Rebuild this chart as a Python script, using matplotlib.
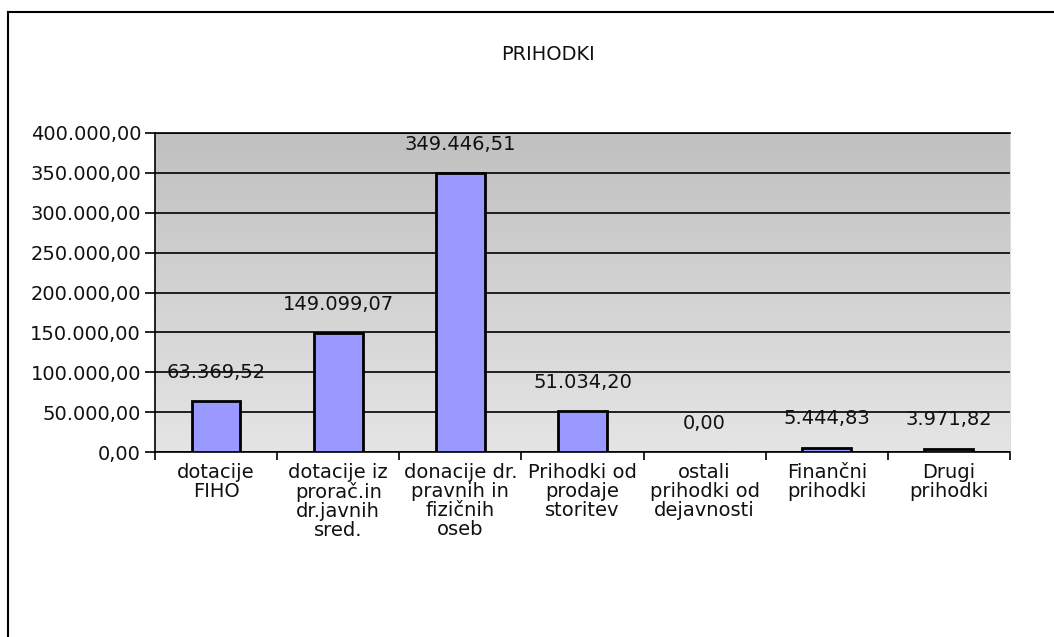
import numpy as np
import matplotlib
matplotlib.use("Agg")
import matplotlib.pyplot as plt
from matplotlib.colors import LinearSegmentedColormap

categories = ["dotacije\nFIHO", "dotacije iz\nprorač.in\ndr.javnih\nsred.",
              "donacije dr.\npravnih in\nfizičnih\noseb", "Prihodki od\nprodaje\nstoritev",
              "ostali\nprihodki od\ndejavnosti", "Finančni\nprihodki", "Drugi\nprihodki"]
values = [63369.52, 149099.07, 349446.51, 51034.20, 0.00, 5444.83, 3971.82]
yticks = [0, 50000, 100000, 150000, 200000, 250000, 300000, 350000, 400000]


def fmt(v):
    # slovenian number format: 1.234,56
    s = f"{v:,.2f}"
    return s.replace(",", "X").replace(".", ",").replace("X", ".")


plt.rcParams['font.family'] = ['DejaVu Sans']
W, H = 1054, 637
fs = 14
fig = plt.figure(figsize=(W / 100, H / 100), dpi=100)
fig.patch.set_facecolor("white")

# outer border (only left and top are visible in the reference)
fig.add_artist(plt.Line2D([8 / W, 8 / W], [0, 1 - 12 / H], color="black", lw=1.5, transform=fig.transFigure))
fig.add_artist(plt.Line2D([8 / W, 1], [1 - 12 / H, 1 - 12 / H], color="black", lw=1.5, transform=fig.transFigure))

ax = fig.add_axes([155 / W, 1 - 452 / H, (1010 - 155) / W, (452 - 133) / H])
x = np.arange(len(values))

ax.set_xlim(-0.5, len(values) - 0.5)
ax.set_ylim(0, 400000)

# gray gradient background
cmap = LinearSegmentedColormap.from_list("bg", ["#e5e5e5", "#c0c0c0"])
grad = np.linspace(0, 1, 256).reshape(-1, 1)
ax.imshow(grad, cmap=cmap, aspect="auto", origin="lower",
          extent=[-0.5, len(values) - 0.5, 0, 400000], zorder=0)

ax.set_yticks(yticks)
ax.set_yticklabels([fmt(v) for v in yticks], fontsize=fs, color="#111111")
ax.yaxis.grid(True, color="black", lw=1.2, zorder=1)
ax.set_axisbelow(True)

ax.bar(x, values, width=0.4, color="#9999ff", edgecolor="black", linewidth=2, zorder=3)

for xi, v in zip(x, values):
    ax.annotate(fmt(v), (xi, v), xytext=(0, 14), textcoords="offset points",
                ha="center", va="bottom", fontsize=fs, color="#111111", zorder=4)

ax.set_xticks(x)
ax.set_xticklabels(categories, fontsize=fs, linespacing=1.0, color="#111111")
ax.tick_params(axis="x", which="major", length=0, pad=8)
ax.set_xticks(np.arange(-0.5, len(values)), minor=True)
ax.tick_params(axis="x", which="minor", length=6, width=1.2, direction="out")
ax.tick_params(axis="y", length=7, width=1.2, pad=3)

for side in ["left", "bottom", "top"]:
    ax.spines[side].set_color("black")
    ax.spines[side].set_linewidth(1.2)
ax.spines["right"].set_color("#dddddd")

fig.text(548 / W, 1 - 55 / H, "PRIHODKI", ha="center", va="center", fontsize=fs, color="#111111")

fig.savefig("out.png", dpi=100)
